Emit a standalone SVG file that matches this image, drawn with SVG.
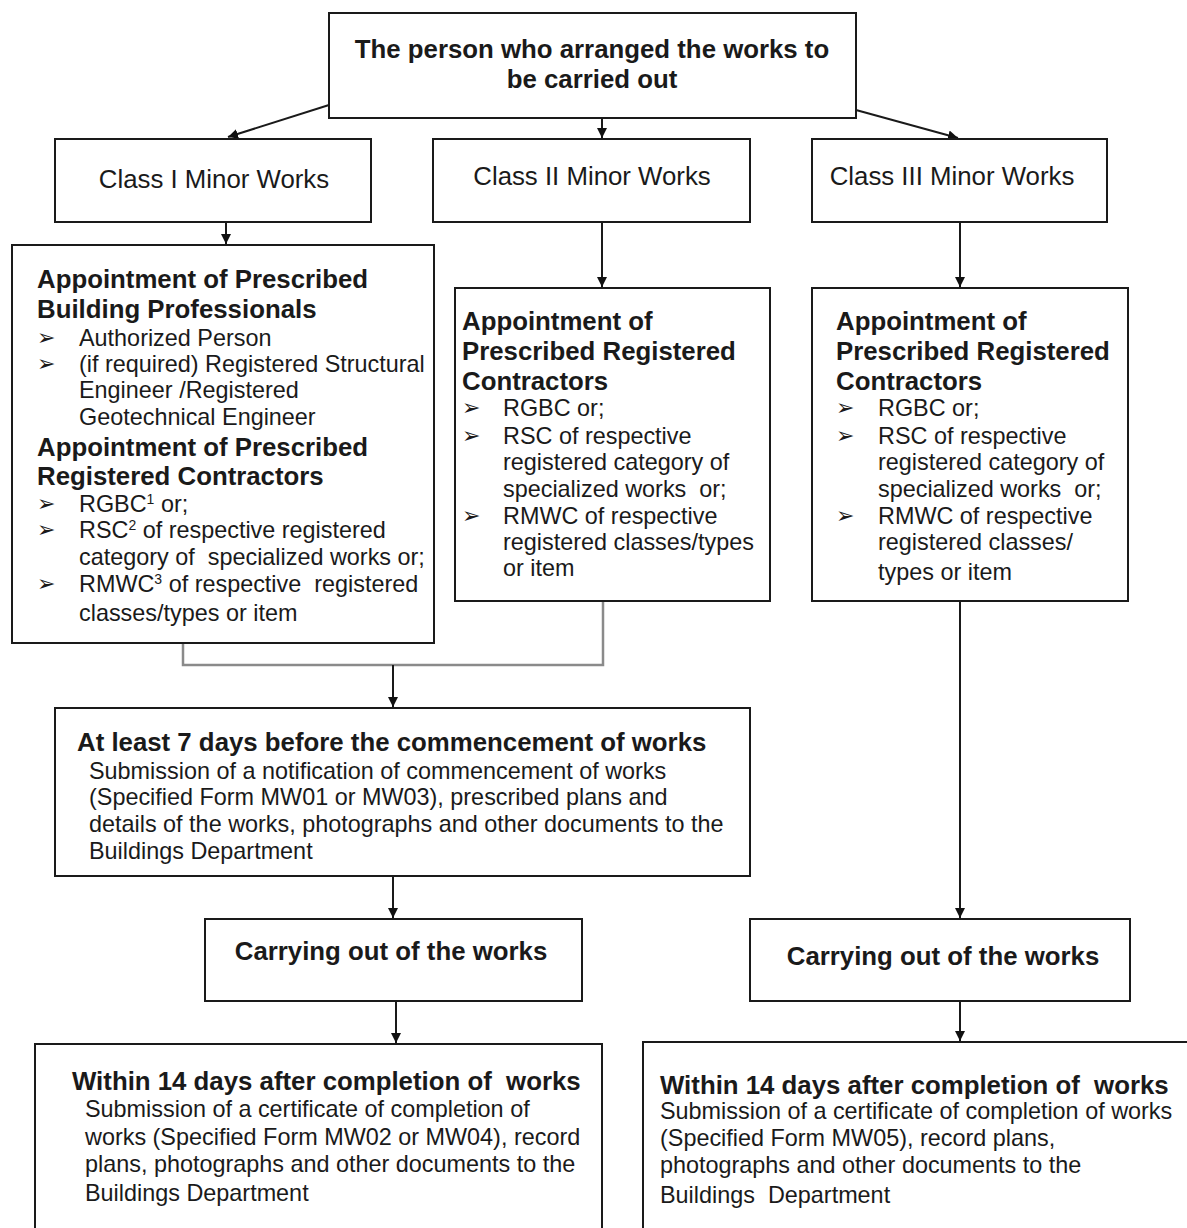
<svg xmlns="http://www.w3.org/2000/svg" width="1187" height="1228" viewBox="0 0 1187 1228">
<defs>
<marker id="ah" viewBox="0 0 10 10" refX="10" refY="5" markerWidth="10" markerHeight="10" markerUnits="userSpaceOnUse" orient="auto">
<path d="M0,0 L10,5 L0,10 z" fill="#111"/>
</marker>
<style>
text{white-space:pre}
.box{fill:#fff;stroke:#1a1a1a;stroke-width:2}
.b{font-family:"Liberation Sans",Arial,sans-serif;font-weight:bold;font-size:25.8px;fill:#1a1a1a}
.r{font-family:"Liberation Sans",Arial,sans-serif;font-size:23.4px;fill:#1a1a1a}
.c{font-family:"Liberation Sans",Arial,sans-serif;font-size:25.8px;fill:#1a1a1a}
.bu{font-family:"DejaVu Sans",sans-serif;font-size:22px;fill:#1a1a1a}
.ln{stroke:#1a1a1a;stroke-width:2;fill:none}
.gr{stroke:#8a8a8a;stroke-width:2.5;fill:none}
.sup{font-size:14px}
</style>
</defs>
<rect width="1187" height="1228" fill="#fff"/>

<g id="connectors">
<line class="ln" x1="329" y1="105" x2="228" y2="137" marker-end="url(#ah)"/>
<line class="ln" x1="602" y1="118" x2="602" y2="138" marker-end="url(#ah)"/>
<line class="ln" x1="856" y1="110" x2="958" y2="138" marker-end="url(#ah)"/>
<line class="ln" x1="226" y1="222" x2="226" y2="244" marker-end="url(#ah)"/>
<line class="ln" x1="602" y1="222" x2="602" y2="287" marker-end="url(#ah)"/>
<line class="ln" x1="960" y1="222" x2="960" y2="287" marker-end="url(#ah)"/>
<polyline class="gr" points="183,643 183,665 603,665 603,601"/>
<line class="ln" x1="393" y1="665" x2="393" y2="707" marker-end="url(#ah)"/>
<line class="ln" x1="393" y1="876" x2="393" y2="918" marker-end="url(#ah)"/>
<line class="ln" x1="396" y1="1001" x2="396" y2="1043" marker-end="url(#ah)"/>
<line class="ln" x1="960" y1="601" x2="960" y2="918" marker-end="url(#ah)"/>
<line class="ln" x1="960" y1="1001" x2="960" y2="1041" marker-end="url(#ah)"/>
</g>

<g id="start">
<rect class="box" x="329" y="13" width="527" height="105"/>
<text class="b" x="592" y="58" text-anchor="middle">The person who arranged the works to</text>
<text class="b" x="592" y="88" text-anchor="middle">be carried out</text>
</g>

<g id="class1">
<rect class="box" x="55" y="139" width="316" height="83"/>
<text class="c" x="214" y="188" text-anchor="middle">Class I Minor Works</text>
</g>
<g id="class2">
<rect class="box" x="433" y="139" width="317" height="83"/>
<text class="c" x="592" y="185" text-anchor="middle">Class II Minor Works</text>
</g>
<g id="class3">
<rect class="box" x="812" y="139" width="295" height="83"/>
<text class="c" x="952" y="185" text-anchor="middle">Class III Minor Works</text>
</g>

<g id="appoint1">
<rect class="box" x="12" y="245" width="422" height="398"/>
<text class="b" x="37" y="288">Appointment of Prescribed</text>
<text class="b" x="37" y="318">Building Professionals</text>
<text class="bu" x="37" y="345">➢</text><text class="r" x="79" y="346">Authorized Person</text>
<text class="bu" x="37" y="371">➢</text><text class="r" x="79" y="372">(if required) Registered Structural</text>
<text class="r" x="79" y="398">Engineer /Registered</text>
<text class="r" x="79" y="425">Geotechnical Engineer</text>
<text class="b" x="37" y="456">Appointment of Prescribed</text>
<text class="b" x="37" y="485">Registered Contractors</text>
<text class="bu" x="37" y="511">➢</text><text class="r" x="79" y="512">RGBC<tspan class="sup" dy="-8">1</tspan><tspan dy="8"> or;</tspan></text>
<text class="bu" x="37" y="537">➢</text><text class="r" x="79" y="538">RSC<tspan class="sup" dy="-8">2</tspan><tspan dy="8"> of respective registered</tspan></text>
<text class="r" x="79" y="565">category of  specialized works or;</text>
<text class="bu" x="37" y="591">➢</text><text class="r" x="79" y="592">RMWC<tspan class="sup" dy="-8">3</tspan><tspan dy="8"> of respective  registered</tspan></text>
<text class="r" x="79" y="621">classes/types or item</text>
</g>

<g id="appoint2">
<rect class="box" x="455" y="288" width="315" height="313"/>
<text class="b" x="462" y="330">Appointment of</text>
<text class="b" x="462" y="360">Prescribed Registered</text>
<text class="b" x="462" y="390">Contractors</text>
<text class="bu" x="462" y="415">➢</text><text class="r" x="503" y="416">RGBC or;</text>
<text class="bu" x="462" y="443">➢</text><text class="r" x="503" y="444">RSC of respective</text>
<text class="r" x="503" y="470">registered category of</text>
<text class="r" x="503" y="497">specialized works  or;</text>
<text class="bu" x="462" y="523">➢</text><text class="r" x="503" y="524">RMWC of respective</text>
<text class="r" x="503" y="550">registered classes/types</text>
<text class="r" x="503" y="576">or item</text>
</g>

<g id="appoint3">
<rect class="box" x="812" y="288" width="316" height="313"/>
<text class="b" x="836" y="330">Appointment of</text>
<text class="b" x="836" y="360">Prescribed Registered</text>
<text class="b" x="836" y="390">Contractors</text>
<text class="bu" x="836" y="415">➢</text><text class="r" x="878" y="416">RGBC or;</text>
<text class="bu" x="836" y="443">➢</text><text class="r" x="878" y="444">RSC of respective</text>
<text class="r" x="878" y="470">registered category of</text>
<text class="r" x="878" y="497">specialized works  or;</text>
<text class="bu" x="836" y="523">➢</text><text class="r" x="878" y="524">RMWC of respective</text>
<text class="r" x="878" y="550">registered classes/</text>
<text class="r" x="878" y="580">types or item</text>
</g>

<g id="notify">
<rect class="box" x="55" y="708" width="695" height="168"/>
<text class="b" x="77" y="751">At least 7 days before the commencement of works</text>
<text class="r" x="89" y="779">Submission of a notification of commencement of works</text>
<text class="r" x="89" y="805">(Specified Form MW01 or MW03), prescribed plans and</text>
<text class="r" x="89" y="832">details of the works, photographs and other documents to the</text>
<text class="r" x="89" y="859">Buildings Department</text>
</g>

<g id="carry1">
<rect class="box" x="205" y="919" width="377" height="82"/>
<text class="b" x="391" y="960" text-anchor="middle">Carrying out of the works</text>
</g>

<g id="complete1">
<rect class="box" x="35" y="1044" width="567" height="200"/>
<text class="b" x="72" y="1090">Within 14 days after completion of  works</text>
<text class="r" x="85" y="1117">Submission of a certificate of completion of</text>
<text class="r" x="85" y="1145">works (Specified Form MW02 or MW04), record</text>
<text class="r" x="85" y="1172">plans, photographs and other documents to the</text>
<text class="r" x="85" y="1201">Buildings Department</text>
</g>

<g id="carry2">
<rect class="box" x="750" y="919" width="380" height="82"/>
<text class="b" x="943" y="965" text-anchor="middle">Carrying out of the works</text>
</g>

<g id="complete2">
<rect class="box" x="643" y="1042" width="560" height="200"/>
<text class="b" x="660" y="1094">Within 14 days after completion of  works</text>
<text class="r" x="660" y="1119">Submission of a certificate of completion of works</text>
<text class="r" x="660" y="1146">(Specified Form MW05), record plans,</text>
<text class="r" x="660" y="1173">photographs and other documents to the</text>
<text class="r" x="660" y="1203">Buildings  Department</text>
</g>
</svg>
